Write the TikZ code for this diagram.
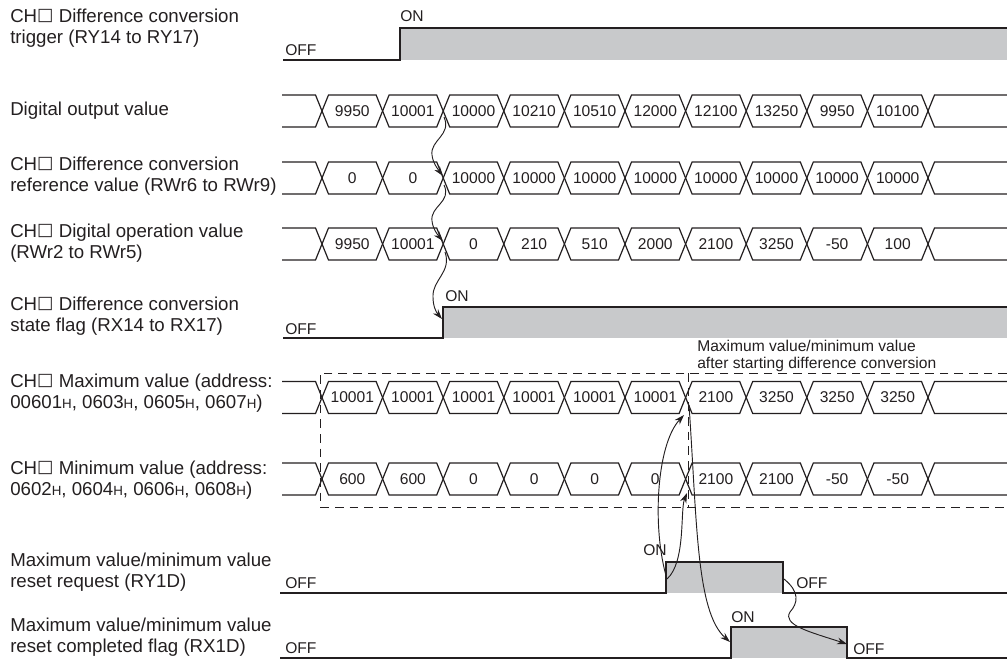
\documentclass[tikz,border=0pt]{standalone}
\usepackage{fontspec}
\setmainfont{Liberation Sans}
\newfontfamily\boxfont{DejaVu Sans}
\usetikzlibrary{arrows.meta}
\definecolor{ink}{RGB}{35,31,32}
\definecolor{onfill}{RGB}{200,201,203}
\newcommand{\hsub}{{\fontsize{10}{10}\selectfont H}}
\newcommand{\chbox}{CH\raisebox{1.3pt}{\boxfont\fontsize{13}{13}\selectfont\char"25A1}}

\begin{document}
\begin{tikzpicture}[
    x=0.75pt, y=-0.75pt,
    sig/.style={draw=ink,line width=0.9pt},
    bus/.style={draw=ink,line width=0.9pt},
    lbl/.style={anchor=west,align=left,inner sep=0pt,text=ink,font=\fontsize{14}{15.6}\selectfont},
    val/.style={inner sep=0pt,text=ink,font=\fontsize{11.7}{12}\selectfont},
    lvl/.style={inner sep=0pt,text=ink,font=\fontsize{11.7}{12}\selectfont},
    note/.style={anchor=west,align=left,inner sep=0pt,text=ink,font=\fontsize{11.7}{12.5}\selectfont},
    frame/.style={draw=ink,line width=0.75pt,dash pattern=on 6.5pt off 4.5pt},
    link/.style={draw=ink,line width=0.7pt,-{Stealth[length=7.5pt,width=5pt]}},
    >=Stealth
]
\useasboundingbox (0,0) rectangle (1007,660);

% row labels
\node[lbl] (ltrig) at (10,28) {\chbox\ Difference conversion\\trigger (RY14 to RY17)};
\node[lbl] (ldov)  at (10,111) {Digital output value};
\node[lbl] (lref)  at (10,176) {\chbox\ Difference conversion\\reference value (RWr6 to RWr9)};
\node[lbl] (lop)   at (10,243) {\chbox\ Digital operation value\\(RWr2 to RWr5)};
\node[lbl] (lstat) at (10,316) {\chbox\ Difference conversion\\state flag (RX14 to RX17)};
\node[lbl] (lmax)  at (10,393) {\chbox\ Maximum value (address:\\00601\hsub, 0603\hsub, 0605\hsub, 0607\hsub)};
\node[lbl] (lmin)  at (10,480) {\chbox\ Minimum value (address:\\0602\hsub, 0604\hsub, 0606\hsub, 0608\hsub)};
\node[lbl] (lreq)  at (10,572) {Maximum value/minimum value\\reset request (RY1D)};
\node[lbl] (ldone) at (10,637) {Maximum value/minimum value\\reset completed flag (RX1D)};

% bit signals
\fill[onfill] (400,28) rectangle (1007,60);
\draw[sig] (283,60) -- (400,60) -- (400,28) -- (1007,28);
\node[lvl,anchor=west] (trigoff) at (285,50) {OFF};
\node[lvl,anchor=west] (trigon) at (400,16) {ON};

\fill[onfill] (443,307) rectangle (1007,338);
\draw[sig] (283,338) -- (443,338) -- (443,307) -- (1007,307);
\node[lvl,anchor=west] (statoff) at (285,329) {OFF};
\node[lvl,anchor=west] (staton) at (445,296) {ON};

\fill[onfill] (666,562) rectangle (783,593);
\draw[sig] (280,593) -- (666,593) -- (666,562) -- (783,562) -- (783,593) -- (1007,593);
\node[lvl,anchor=west] (reqoff) at (285,583) {OFF};
\node[lvl,anchor=east] (reqon) at (667,550) {ON};
\node[lvl,anchor=west] (reqoff2) at (796,583) {OFF};

\fill[onfill] (731,627) rectangle (847,658);
\draw[sig] (280,658) -- (731,658) -- (731,627) -- (847,627) -- (847,658) -- (1007,658);
\node[lvl,anchor=west] (doneoff) at (285,648) {OFF};
\node[lvl,anchor=west] (doneon) at (731,617) {ON};
\node[lvl,anchor=west] (doneoff2) at (853,649) {OFF};

% word data rows
\foreach \r/\ym/\vals in {
    dov/111/{9950,10001,10000,10210,10510,12000,12100,13250,9950,10100},
    ref/178/{0,0,10000,10000,10000,10000,10000,10000,10000,10000},
    op/244/{9950,10001,0,210,510,2000,2100,3250,-50,100},
    max/397.5/{10001,10001,10001,10001,10001,10001,2100,3250,3250,3250},
    min/479/{600,600,0,0,0,0,2100,2100,-50,-50}} {
  \draw[bus] (282,\ym-16) -- (315.5,\ym-16) -- (322,\ym) -- (315.5,\ym+16) -- (282,\ym+16);
  \draw[bus] (1007,\ym-16) -- (934.5,\ym-16) -- (928,\ym) -- (934.5,\ym+16) -- (1007,\ym+16);
  \foreach \v [count=\i from 0] in \vals {
    \pgfmathsetmacro\xa{322+60.6*\i}
    \pgfmathsetmacro\xb{\xa+60.6}
    \draw[bus] (\xa,\ym) -- (\xa+6.5,\ym-16) -- (\xb-6.5,\ym-16) -- (\xb,\ym)
      -- (\xb-6.5,\ym+16) -- (\xa+6.5,\ym+16) -- cycle;
    \node[val] (\r\i) at (\xa+30.3,\ym) {\v};
  }
}

% max/min window after starting difference conversion
\draw[frame] (1007,373) -- (320,373) -- (320,507) -- (1007,507);
\draw[frame] (688,373) -- (688,507);
\node[note] (after) at (697,356) {Maximum value/minimum value\\after starting difference conversion};

% cause/effect arrows
\coordinate (dovx) at (444,117);
\coordinate (refx) at (443,176);
\coordinate (refy) at (444,185);
\coordinate (opx) at (443,241);
\coordinate (opy) at (445,252);
\coordinate (statup) at (442,319);
\coordinate (requp) at (667,579);
\coordinate (maxx) at (684,415);
\coordinate (minx) at (687,493);
\coordinate (maxy) at (689,405);
\coordinate (doneup) at (730,642);
\coordinate (reqdn) at (784,579);
\coordinate (donedn) at (847,644);

\draw[link] (dovx) .. controls (452,135) and (430,140) .. (432,155) .. controls (433,163) and (437,168) .. (refx);
\draw[link] (refy) .. controls (452,202) and (430,206) .. (432,221) .. controls (433,229) and (437,234) .. (opx);
\draw[link] (opy) .. controls (452,272) and (432,280) .. (433,297) .. controls (433,306) and (436,312) .. (statup);
\draw[link] (requp) .. controls (652,530) and (656,445) .. (maxx);
\draw[link] (requp) .. controls (686,562) and (680,510) .. (minx);
\draw[link] (maxy) .. controls (697,520) and (696,612) .. (doneup);
\draw[link] (reqdn) .. controls (800,592) and (798,603) .. (790,612) .. controls (782,625) and (810,632) .. (donedn);
\end{tikzpicture}
\end{document}
